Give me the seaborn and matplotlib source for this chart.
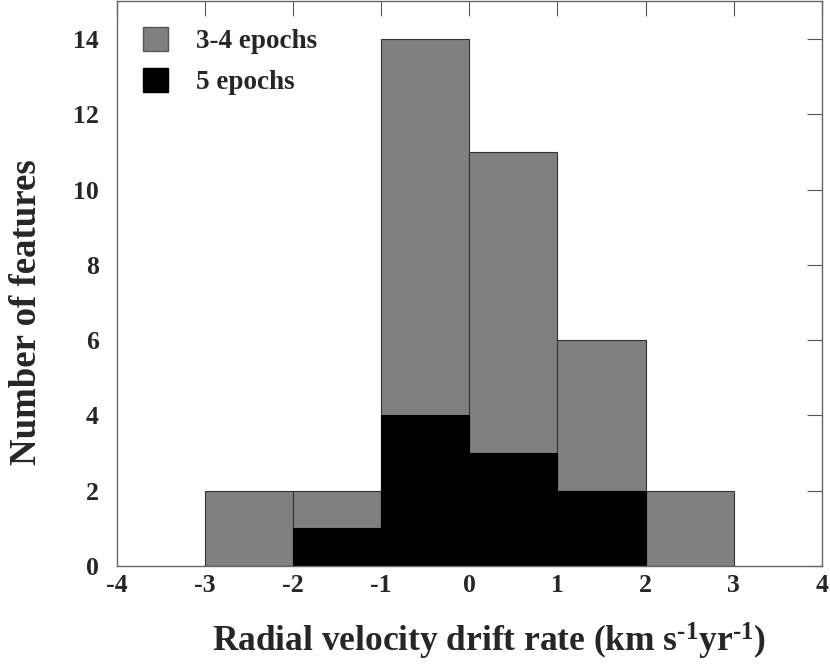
import matplotlib
matplotlib.use('Agg')
import matplotlib.pyplot as plt
import seaborn as sns
from matplotlib.patches import Patch

# bin edges and counts
edges = [-3, -2, -1, 0, 1, 2, 3]
centers = [-2.5, -1.5, -0.5, 0.5, 1.5, 2.5]
counts_all = [2, 2, 14, 11, 6, 2]      # 3-4 epochs
counts_five = [0, 1, 4, 3, 2, 0]       # 5 epochs

sns.set_style('white')
plt.rcParams['font.family'] = ['Liberation Serif', 'DejaVu Serif']
plt.rcParams['font.weight'] = 'bold'
plt.rcParams['axes.unicode_minus'] = False
plt.rcParams['mathtext.fontset'] = 'custom'
plt.rcParams['mathtext.rm'] = 'Liberation Serif:bold'
plt.rcParams['mathtext.bf'] = 'Liberation Serif:bold'
plt.rcParams['mathtext.it'] = 'Liberation Serif:bold'
plt.rcParams['mathtext.default'] = 'rm'

fig = plt.figure(figsize=(8.3, 6.66), dpi=100)
ax = fig.add_axes([0.141, 0.150, 0.849, 0.848])

sns.histplot(x=centers, weights=counts_all, bins=edges, color='#808080',
             edgecolor='#333333', linewidth=0.8, alpha=1, ax=ax)
sns.histplot(x=centers, weights=counts_five, bins=edges, color='black',
             edgecolor='black', linewidth=0.8, alpha=1, ax=ax)

ax.set_xlim(-4, 4)
ax.set_ylim(0, 15)
ax.set_xticks(range(-4, 5))
ax.set_yticks(range(0, 15, 2))
ax.tick_params(direction='in', length=11, width=0.8, top=True, right=True,
               labelsize=18.5, color='#555555')
ax.tick_params(axis='x', pad=6)
ax.tick_params(axis='y', pad=13)
for lab in ax.get_xticklabels() + ax.get_yticklabels():
    lab.set_fontweight('bold')
for sp in ax.spines.values():
    sp.set_color('#666666')
    sp.set_linewidth(1.0)

ax.set_xlabel(r'Radial velocity drift rate (km s$^{\text{-1}}$yr$^{\text{-1}}$)',
              fontsize=25.5, fontweight='bold', va='top')
ax.xaxis.set_label_coords(0.528, -0.097)
ax.set_ylabel('Number of features', fontsize=26.5, fontweight='bold')
ax.yaxis.set_label_coords(-0.1035, 0.45)

handles = [Patch(facecolor='#808080', edgecolor='#555555', label='3-4 epochs'),
           Patch(facecolor='black', edgecolor='black', label='5 epochs')]
ax.legend(handles=handles, loc='upper left', frameon=False,
          prop={'weight': 'bold', 'size': 19.5}, handlelength=0.95, handleheight=1.0,
          handletextpad=1.0, labelspacing=0.5, borderaxespad=0.55)

fig.savefig('out.png', dpi=100)
